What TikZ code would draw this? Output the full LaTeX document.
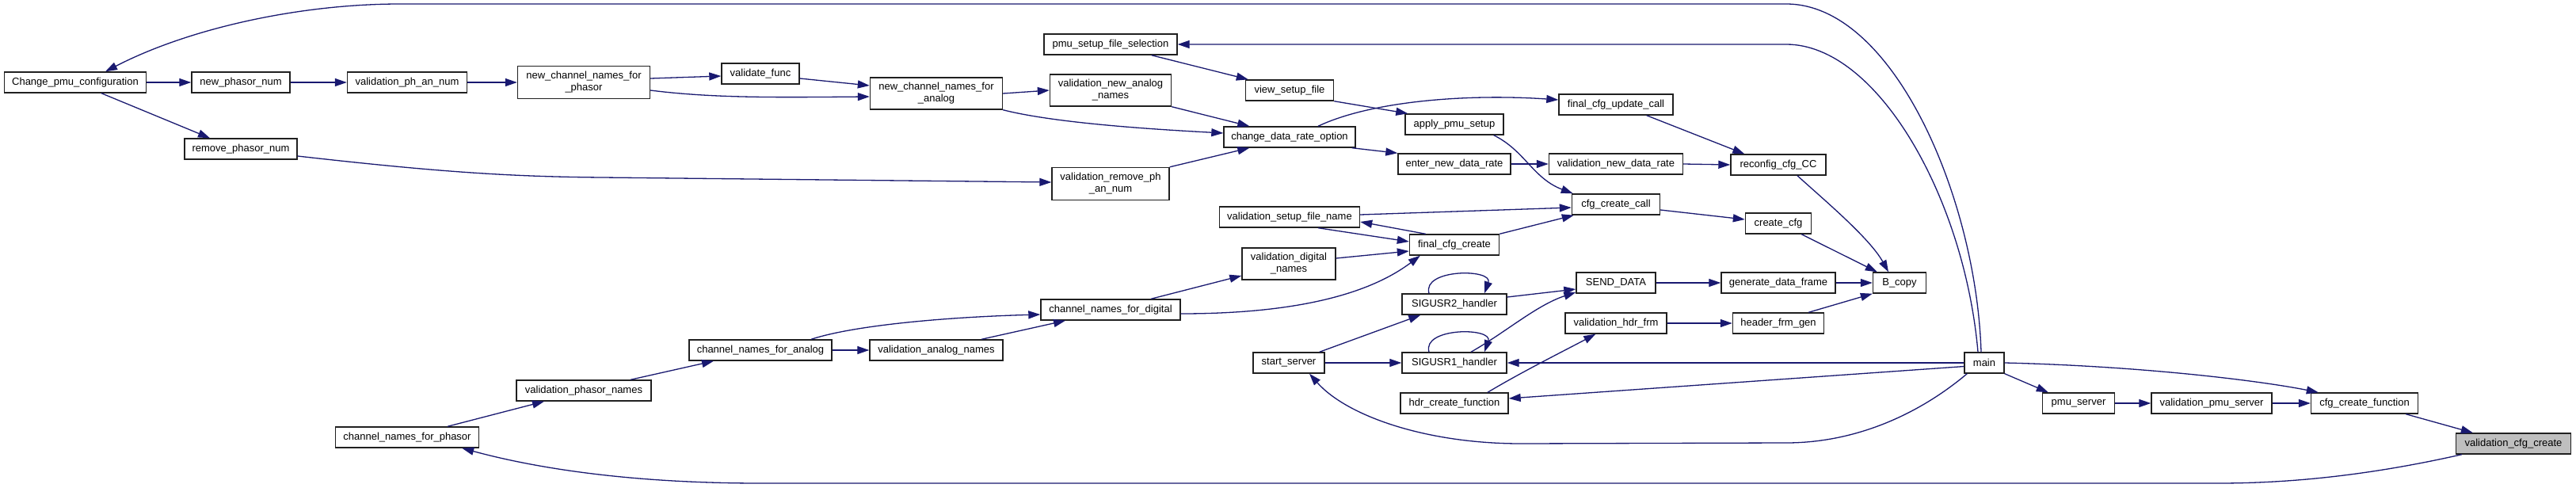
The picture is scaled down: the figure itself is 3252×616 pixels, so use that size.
\documentclass[tikz,border=0pt]{standalone}
\usepackage{fontspec}
\setmainfont{Liberation Sans}
\usetikzlibrary{arrows.meta}
\definecolor{edgec}{HTML}{191970}
\definecolor{hl}{HTML}{BFBFBF}
\definecolor{bord}{HTML}{202020}
\tikzset{
 fn/.style={draw=bord, line width=0.7pt, fill=white, rectangle, inner sep=0pt,
   font=\fontsize{6.5}{7.5}\selectfont, align=center, minimum height=13pt},
 cl/.style={draw=edgec, line width=0.65pt, -{Triangle[length=7.5pt,width=5pt]}},
}
\begin{document}
\begin{tikzpicture}[x=0.5pt,y=-0.5pt]
\useasboundingbox (0,0) rectangle (3252,616);
\fill[white] (0,0) rectangle (3252,616);
% nodes
\node[fn, minimum width=89.5pt] (cpc) at (95,104) {Change\_pmu\_configuration};
\node[fn, minimum width=62pt] (npn) at (304,104) {new\_phasor\_num};
\node[fn, minimum width=75.5pt] (vpan) at (514,104) {validation\_ph\_an\_num};
\node[fn, minimum width=83.5pt, minimum height=20.5pt] (ncnfp) at (737,104) {new\_channel\_names\_for\\\_phasor};
\node[fn, minimum width=49pt] (vf) at (960,93) {validate\_func};
\node[fn, minimum width=71pt] (rpn) at (304,188) {remove\_phasor\_num};
\node[fn, minimum width=90pt] (cnfa) at (960,442) {channel\_names\_for\_analog};
\node[fn, minimum width=85pt] (vpn) at (737,493) {validation\_phasor\_names};
\node[fn, minimum width=90.5pt] (cnfp) at (514,552) {channel\_names\_for\_phasor};
\node[fn, minimum width=83.5pt, minimum height=20pt] (ncnfa) at (1182,118) {new\_channel\_names\_for\\\_analog};
\node[fn, minimum width=76.5pt, minimum height=20pt] (vnan) at (1402,114) {validation\_new\_analog\\\_names};
\node[fn, minimum width=84pt] (psfs) at (1402,56) {pmu\_setup\_file\_selection};
\node[fn, minimum width=55.5pt] (vsf) at (1628,114) {view\_setup\_file};
\node[fn, minimum width=83pt] (cdro) at (1628,173) {change\_data\_rate\_option};
\node[fn, minimum width=74pt, minimum height=20.5pt] (vrpan) at (1402,232) {validation\_remove\_ph\\\_an\_num};
\node[fn, minimum width=62pt] (aps) at (1836,157) {apply\_pmu\_setup};
\node[fn, minimum width=72pt] (fcuc) at (2040,132) {final\_cfg\_update\_call};
\node[fn, minimum width=71pt] (endr) at (1836,207) {enter\_new\_data\_rate};
\node[fn, minimum width=84.5pt] (vndr) at (2040,207) {validation\_new\_data\_rate};
\node[fn, minimum width=55.5pt] (ccc) at (2040,258) {cfg\_create\_call};
\node[fn, minimum width=88.5pt] (vsfn) at (1628,274) {validation\_setup\_file\_name};
\node[fn, minimum width=56.5pt] (fcc) at (1836,309) {final\_cfg\_create};
\node[fn, minimum width=59pt, minimum height=20pt] (vdn) at (1627,333) {validation\_digital\\\_names};
\node[fn, minimum width=88pt] (cnfd) at (1402,391) {channel\_names\_for\_digital};
\node[fn, minimum width=84pt] (van) at (1182,442) {validation\_analog\_names};
\node[fn, minimum width=66pt] (s2) at (1836,384) {SIGUSR2\_handler};
\node[fn, minimum width=66pt] (s1) at (1836,458) {SIGUSR1\_handler};
\node[fn, minimum width=45pt] (ss) at (1627,458) {start\_server};
\node[fn, minimum width=68pt] (hcf) at (1836,509) {hdr\_create\_function};
\node[fn, minimum width=50pt] (sd) at (2040,357) {SEND\_DATA};
\node[fn, minimum width=64pt] (vhf) at (2040,408) {validation\_hdr\_frm};
\node[fn, minimum width=60pt] (rcc) at (2245,208) {reconfig\_cfg\_CC};
\node[fn, minimum width=41.5pt] (ccfg) at (2245,282) {create\_cfg};
\node[fn, minimum width=72pt] (gdf) at (2245,357) {generate\_data\_frame};
\node[fn, minimum width=33.5pt] (bc) at (2398,357) {B\_copy};
\node[fn, minimum width=57.5pt] (hfg) at (2245,408) {header\_frm\_gen};
\node[fn, minimum width=25pt] (main) at (2505,458) {main};
\node[fn, minimum width=45.5pt] (pmus) at (2624,509) {pmu\_server};
\node[fn, minimum width=76pt] (vps) at (2792,509) {validation\_pmu\_server};
\node[fn, minimum width=67.5pt] (cfgf) at (2985,509) {cfg\_create\_function};
\node[fn, minimum width=72.5pt, fill=hl] (vcc) at (3173,560) {validation\_cfg\_create};
% edges
\draw[cl] ([xshift=-2pt]main.north) .. controls (2495,250) and (2390,5) .. (2255,5) -- (505,5) .. controls (380,5) and (240,35) .. ([xshift=19pt]cpc.north);
\draw[cl] ([xshift=-4pt]main.north) .. controls (2480,250) and (2370,56) .. (2255,56) -- (psfs.east);
\draw[cl] (main.west) -- (s1.east);
\draw[cl] (main.190) -- (hcf.5);
\draw[cl] ([xshift=2pt]main.south west) .. controls (2420,525) and (2340,559) .. (2255,559) -- (1920,560) .. controls (1800,560) and (1700,525) .. ([xshift=13pt]ss.south);
\draw[cl] (main.south east) -- ([xshift=4pt]pmus.north west);
\draw[cl] (main.east) .. controls (2700,462) and (2850,480) .. ([xshift=5pt]cfgf.north west);
\draw[cl] (pmus.east) -- (vps.west);
\draw[cl] (vps.east) -- (cfgf.west);
\draw[cl] ([xshift=-8pt]cfgf.south east) -- ([xshift=11pt]vcc.north west);
\draw[cl] ([xshift=4pt]vcc.south west) .. controls (3000,598) and (2900,610) .. (2800,610) -- (960,610) .. controls (800,610) and (680,592) .. ([xshift=-11pt]cnfp.south east);
\draw[cl] (ss.east) -- (s1.west);
\draw[cl] ([xshift=-3.5pt]ss.north east) -- ([xshift=12pt]s2.south west);
\draw[cl] ([xshift=-16pt]s2.north) .. controls (1795,339) and (1885,339) .. ([xshift=19pt]s2.north);
\draw[cl] ([xshift=-16pt]s1.north) .. controls (1795,413) and (1885,413) .. ([xshift=19pt]s1.north);
\draw[cl] ([yshift=4.5pt]s2.east) -- ([yshift=-4pt]sd.west);
\draw[cl] ([xshift=10.5pt]s1.north) .. controls (1900,420) and (1940,385) .. ([yshift=-6pt]sd.west);
\draw[cl] (sd.east) -- (gdf.west);
\draw[cl] (gdf.east) -- (bc.west);
\draw[cl] ([xshift=21pt]hcf.north) .. controls (1920,470) and (1980,440) .. ([xshift=19.5pt]vhf.south west);
\draw[cl] (vhf.east) -- (hfg.west);
\draw[cl] ([xshift=-10pt]hfg.north east) -- (bc.south west);
\draw[cl] ([xshift=-6.5pt]ccfg.south east) -- ([xshift=3pt]bc.north west);
\draw[cl] ([xshift=12pt]rcc.south) .. controls (2300,250) and (2360,300) .. ([xshift=-7pt]bc.north);
\draw[cl] ([yshift=-3.5pt]ccc.east) -- ([yshift=2.5pt]ccfg.west);
\draw[cl] ([xshift=-17pt]fcuc.south east) -- ([xshift=9pt]rcc.north west);
\draw[cl] (vndr.east) -- (rcc.west);
\draw[cl] (endr.east) -- (vndr.west);
\draw[cl] ([xshift=-2.5pt]cdro.south east) -- (endr.north west);
\draw[cl] ([xshift=18pt]cdro.north) .. controls (1730,128) and (1850,118) .. ([yshift=3pt]fcuc.west);
\draw[cl] ([xshift=-6.5pt]aps.south east) .. controls (1925,190) and (1935,225) .. ([xshift=1pt]ccc.north west);
\draw[cl] (vsf.south east) -- ([xshift=2pt]aps.north west);
\draw[cl] ([xshift=-16.5pt]psfs.south east) -- ([xshift=2pt]vsf.north west);
\draw[cl] (vnan.south east) -- ([xshift=16.5pt]cdro.north west);
\draw[cl] (ncnfa.east) -- (vnan.west);
\draw[cl] (ncnfa.south east) .. controls (1330,155) and (1450,163) .. ([yshift=2.5pt]cdro.west);
\draw[cl] (vrpan.north east) -- ([xshift=16.5pt]cdro.south west);
\draw[cl] ([yshift=-4.5pt]rpn.east) .. controls (560,218) and (650,223) .. (760,224) -- ([yshift=1pt]vrpan.west);
\draw[cl] ([yshift=-3pt]vf.east) -- ([yshift=5pt]ncnfa.west);
\draw[cl] ([yshift=-5pt]ncnfp.east) .. controls (900,124) and (980,123) .. ([yshift=-2pt]ncnfa.west);
\draw[cl] ([yshift=2.5pt]ncnfp.east) -- ([yshift=-1.5pt]vf.west);
\draw[cl] (vpan.east) -- (ncnfp.west);
\draw[cl] (npn.east) -- (vpan.west);
\draw[cl] (cpc.east) -- (npn.west);
\draw[cl] ([xshift=16.5pt]cpc.south) -- ([xshift=-19.5pt]rpn.north);
\draw[cl] ([xshift=25.5pt]cnfp.north) -- ([xshift=-25pt]vpn.south);
\draw[cl] ([xshift=29.5pt]vpn.north) -- ([xshift=-29.5pt]cnfa.south);
\draw[cl] (cnfa.east) -- (van.west);
\draw[cl] ([xshift=32pt]cnfa.north) .. controls (1080,410) and (1200,400) .. ([yshift=-3pt]cnfd.west);
\draw[cl] ([xshift=28.5pt]van.north) -- ([xshift=-28.5pt]cnfd.south);
\draw[cl] ([xshift=25.5pt]cnfd.north) -- ([yshift=-7.5pt]vdn.west);
\draw[cl] ([yshift=-2.5pt]cnfd.east) .. controls (1640,396) and (1730,370) .. ([xshift=7pt]fcc.south west);
\draw[cl] ([yshift=3.5pt]vdn.east) -- ([yshift=-4pt]fcc.west);
\draw[cl] ([xshift=18pt]vsfn.south) -- ([yshift=2pt]fcc.west);
\draw[cl] ([xshift=10.5pt]fcc.north west) -- ([yshift=-3pt]vsfn.east);
\draw[cl] ([yshift=1.5pt]vsfn.east) -- ([yshift=-2pt]ccc.west);
\draw[cl] (fcc.north east) -- ([xshift=1.5pt]ccc.south west);
\end{tikzpicture}
\end{document}
